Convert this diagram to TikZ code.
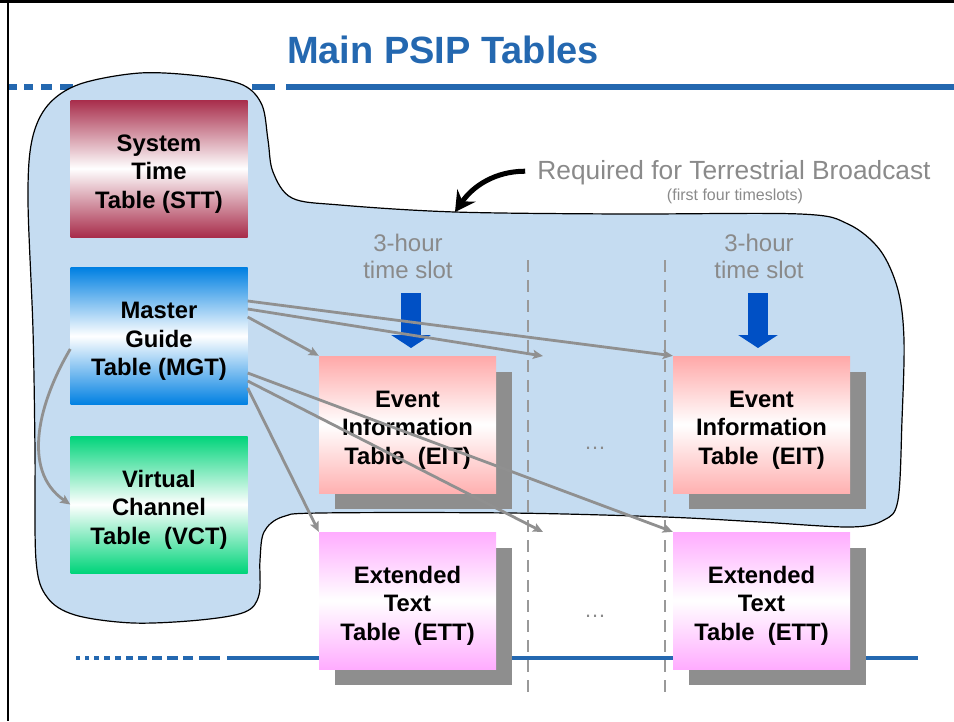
\documentclass[tikz,border=0pt]{standalone}
\usepackage{fontspec}
\setmainfont{Liberation Sans}
\usetikzlibrary{arrows.meta,shadows,calc}
\definecolor{titleblue}{RGB}{36,104,176}
\definecolor{blobfill}{RGB}{197,220,241}
\definecolor{sttred}{RGB}{168,45,75}
\definecolor{mgtblue}{RGB}{0,128,226}
\definecolor{vctgreen}{RGB}{0,212,122}
\definecolor{eitsalmon}{RGB}{255,168,168}
\definecolor{ettpink}{RGB}{255,172,255}
\definecolor{shadowgray}{RGB}{142,142,142}
\definecolor{conngray}{RGB}{144,144,144}
\definecolor{labelgray}{RGB}{138,138,138}
\definecolor{dashgray}{RGB}{153,153,153}
\definecolor{slotblue}{RGB}{0,80,197}
\newcommand{\topstrut}{\rule{0pt}{27pt}}
\begin{document}
\begin{tikzpicture}[x=1pt,y=-1pt,
  tbl/.style={minimum width=177pt, minimum height=137pt, inner sep=0pt, align=center,
    font=\fontsize{23.8}{28.5}\selectfont\bfseries},
  sttfill/.style={top color=sttred, bottom color=sttred, middle color=white},
  mgtfill/.style={top color=mgtblue, bottom color=mgtblue, middle color=white},
  vctfill/.style={top color=vctgreen, bottom color=vctgreen, middle color=white},
  eitfill/.style={top color=eitsalmon, bottom color=eitsalmon!90!white, middle color=white},
  ettfill/.style={top color=ettpink, bottom color=ettpink, middle color=white},
  shad/.style={drop shadow={shadow xshift=16pt, shadow yshift=-16pt, fill=shadowgray, opacity=1}},
  toprule/.style={line width=6pt, titleblue},
  botrule/.style={line width=4pt, titleblue},
  blob/.style={fill=blobfill, draw=black, line width=1.2pt},
  slotlabel/.style={align=center, text=labelgray, font=\fontsize{24}{27}\selectfont, inner sep=0pt},
  slotarrow/.style={draw=slotblue, line width=20pt, line cap=butt, -{Triangle[length=13pt,width=39pt]}},
  conn/.style={draw=conngray, line width=2.8pt, -{Stealth[length=10pt,width=9pt,inset=2pt]}},
  divider/.style={draw=dashgray, line width=2.5pt, dash pattern=on 12pt off 8pt},
  dotsnode/.style={text=labelgray, font=\fontsize{22}{22}\selectfont, inner sep=0pt},
  callarrow/.style={draw=black, line width=5pt, -{Stealth[length=20pt,width=22pt,inset=7pt]}}
]
\useasboundingbox (0,0) rectangle (954,721);
% frame
\draw[line width=3pt] (0,1.5) -- (954,1.5);
\draw[line width=2pt] (7.5,0) -- (7.5,721);
% title
\node[anchor=base, text=titleblue, font=\fontsize{38}{40}\selectfont\bfseries, inner sep=0pt] (title) at (443,63) {Main PSIP Tables};
% rules
\foreach \a/\b in {9/17,24/33,41/52,60/73,81/96,104/121,129/148,156/177,185/208,216/241,252/275,286/954}
  \draw[toprule] (\a,86.5) -- (\b,86.5);
\foreach \a/\b in {76/80,85/89,94/99,104/110,115/121,126/133,138/147,152/162,167/178,183/193,199/220,227/918}
  \draw[botrule] (\a,657.5) -- (\b,657.5);
% blob
\draw[blob] plot[smooth cycle, tension=0.55] coordinates {
 (36,560) (35,450) (33,330) (28,200) (32,140) (48,105) (80,84) (140,73) (200,76) (243,85)
 (262,105) (268,140) (273,172) (292,198) (340,205) (455,212) (620,214) (800,214) (848,224)
 (880,250) (898,290) (904,340) (902,420) (898,500) (884,520) (850,527) (760,522) (665,517)
 (510,513) (320,513) (282,517) (264,532) (260,560) (259,595) (245,612) (200,620) (133,623)
 (75,615) (47,597)};
% dividers
\coordinate (d1top) at (528,260); \coordinate (d1bot) at (528,692);
\coordinate (d2top) at (665,260); \coordinate (d2bot) at (665,692);
\draw[divider] (d1top) -- (d1bot);
\draw[divider] (d2top) -- (d2bot);
% tables
\node[tbl, sttfill] (stt) at (159,168.5) {\topstrut System\\Time\\Table (STT)};
\node[tbl, mgtfill] (mgt) at (159,336) {\topstrut Master\\Guide\\Table (MGT)};
\node[tbl, vctfill] (vct) at (159,504.5) {\topstrut Virtual\\Channel\\Table~~(VCT)};
\node[tbl, eitfill, shad] (eit1) at (407.5,424.5) {\topstrut Event\\Information\\Table~~(EIT)};
\node[tbl, eitfill, shad] (eit2) at (761.5,424.5) {\topstrut Event\\Information\\Table~~(EIT)};
\node[tbl, ettfill, shad] (ett1) at (407.5,600.5) {\topstrut Extended\\Text\\Table~~(ETT)};
\node[tbl, ettfill, shad] (ett2) at (761.5,600.5) {\topstrut Extended\\Text\\Table~~(ETT)};
% dots
\node[dotsnode] (dots1) at (595,448) {…};
\node[dotsnode] (dots2) at (595,616) {…};
% slot labels and arrows
\node[slotlabel] (slot1) at (408,256) {3-hour\\time slot};
\node[slotlabel] (slot2) at (759,256) {3-hour\\time slot};
\coordinate (s1a) at (411,293); \coordinate (s1b) at (411,348);
\coordinate (s2a) at (758,293); \coordinate (s2b) at (758,348);
\draw[slotarrow] (s1a) -- (s1b);
\draw[slotarrow] (s2a) -- (s2b);
% required label
\node[anchor=base, text=labelgray, font=\fontsize{26.3}{28}\selectfont, inner sep=0pt] (req) at (734,179) {Required for Terrestrial Broadcast};
\node[anchor=base, text=labelgray, font=\fontsize{16}{18}\selectfont, inner sep=0pt] (sub) at (735,200) {(first four timeslots)};
\coordinate (callout) at (455,212);
\draw[callarrow] ([xshift=-12pt,yshift=1pt]req.west) .. controls +(-30,0) and +(18,-26) .. (callout);
% connectors
\coordinate (gapA) at (543,356);
\coordinate (gapB) at (543,532);
\draw[conn] ([yshift=35pt]mgt.east) -- (eit2.north west);
\draw[conn] ([yshift=27pt]mgt.east) -- (gapA);
\draw[conn] ([yshift=19pt]mgt.east) -- (eit1.north west);
\draw[conn] ([yshift=-37pt]mgt.east) -- (ett2.north west);
\draw[conn] ([yshift=-45pt]mgt.east) -- (gapB);
\draw[conn] ([yshift=-52pt]mgt.east) -- (ett1.north west);
\draw[conn] ([yshift=-13pt]mgt.west) .. controls (40,400) and (20,470) .. (vct.west);
\end{tikzpicture}
\end{document}
